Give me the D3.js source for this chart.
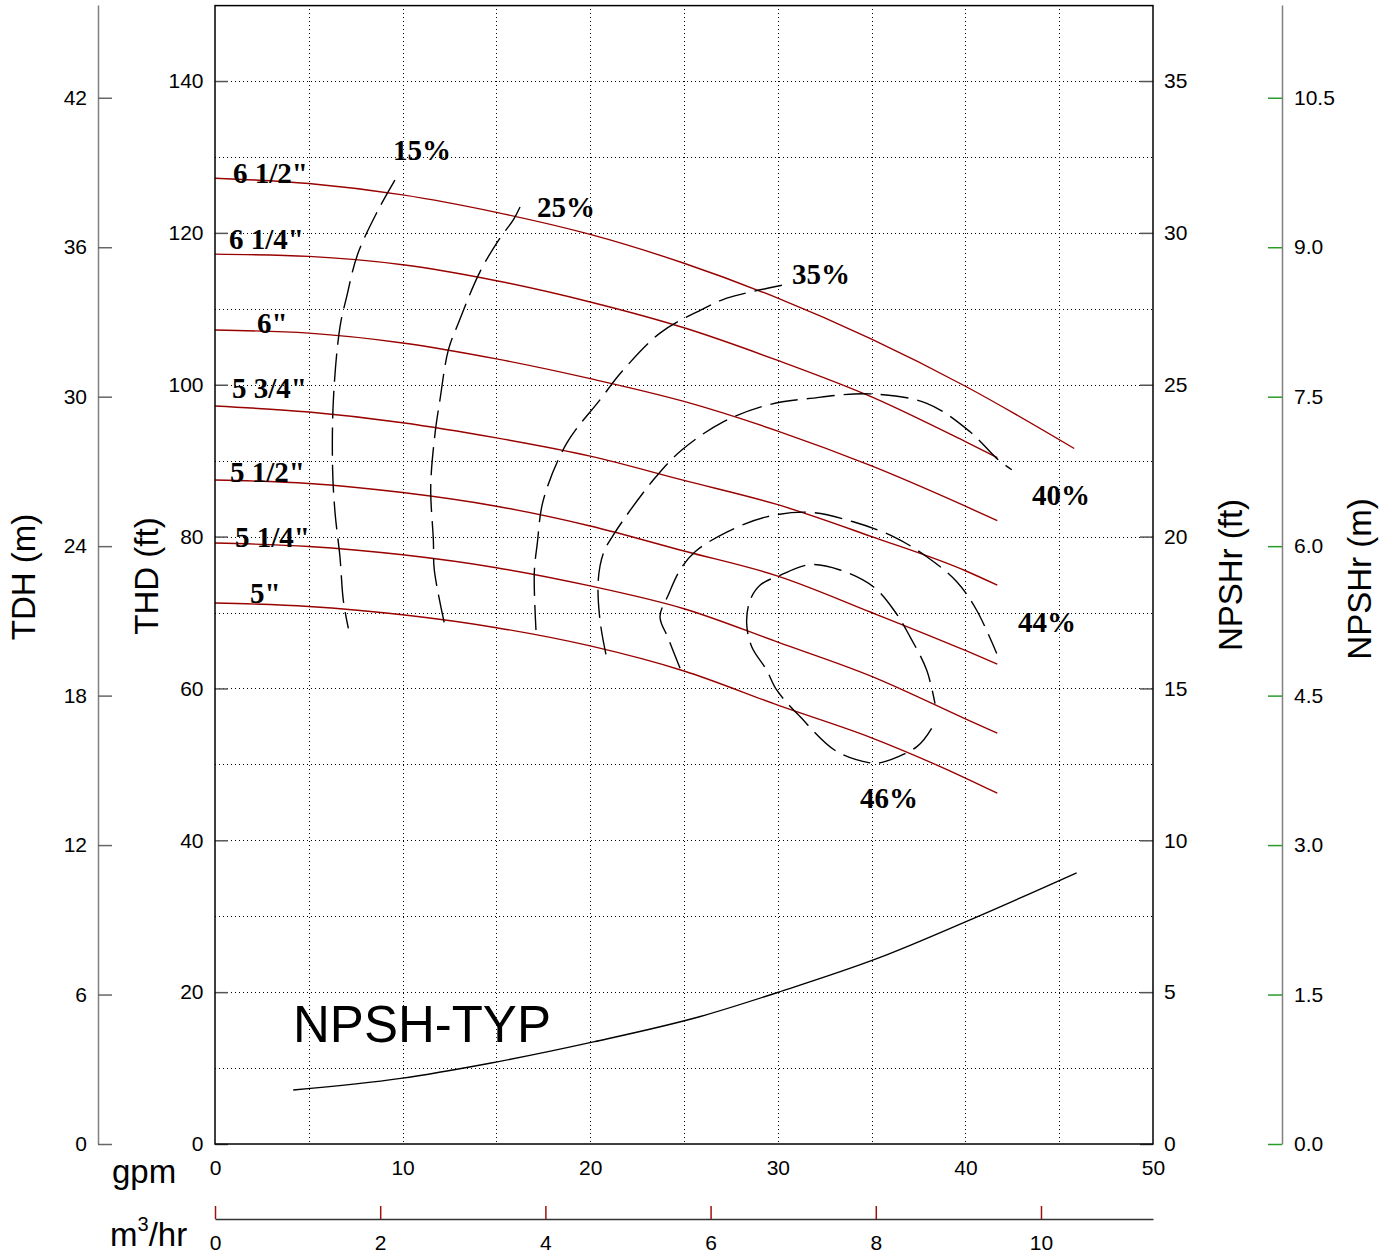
<!DOCTYPE html>
<html><head><meta charset="utf-8">
<script src="https://cdn.jsdelivr.net/npm/d3@7"></script>
<style>body{margin:0;background:#fff}</style>
</head><body><svg id="c" width="1394" height="1255"></svg>
<script>
// ---------- data ----------
const gpmTicks = [0,10,20,30,40,50];
const m3hrTicks = [0,2,4,6,8,10];
const thdTicks = [0,20,40,60,80,100,120,140];
const tdhTicks = [0,6,12,18,24,30,36,42];
const npshFtTicks = [0,5,10,15,20,25,30,35];
const npshMTicks = [0,1.5,3,4.5,6,7.5,9,10.5];
const gridGpm = [5,10,15,20,25,30,35,40,45];
const gridThd = [10,20,30,40,50,60,70,80,90,100,110,120,130,140];

// impeller head curves [gpm, ft]
const head_6_1_2 = [[0,127.2],[5,126.5],[10,125.0],[15,122.7],[20,119.8],[25,116.0],[30,111.4],[35,106.0],[40,99.8],[45.8,91.6]];
const head_6_1_4 = [[0,117.2],[5,116.9],[10,115.8],[15,113.7],[20,110.9],[25,107.5],[30,103.2],[35,98.4],[40,92.5],[41.7,90.4]];
const head_6    = [[0,107.2],[5,106.8],[10,105.5],[15,103.4],[20,100.8],[25,97.8],[30,93.9],[35,89.3],[40,84.0],[41.7,82.1]];
const head_5_3_4 = [[0,97.2],[5,96.4],[10,95.0],[15,93.0],[20,90.6],[25,87.4],[30,84.2],[35,80.0],[40,75.5],[41.7,73.6]];
const head_5_1_2 = [[0,87.45],[5,87.0],[10,85.8],[15,84.0],[20,81.4],[25,78.1],[30,74.8],[35,70.0],[40,65.0],[41.7,63.2]];
const head_5_1_4 = [[0,79.15],[5,78.7],[10,77.6],[15,75.9],[20,73.5],[25,70.5],[30,66.1],[35,61.6],[40,56.0],[41.7,54.1]];
const head_5    = [[0,71.25],[5,70.8],[10,69.7],[15,68.0],[20,65.6],[25,62.3],[30,57.8],[35,53.5],[40,48.2],[41.7,46.2]];
const impellerCurves = [head_6_1_2, head_6_1_4, head_6, head_5_3_4, head_5_1_2, head_5_1_4, head_5];
const impellerNames = ['6 1/2"','6 1/4"','6"','5 3/4"','5 1/2"','5 1/4"','5"'];
const impellerLabelAt = [[0.96,126.6],[0.75,117.9],[2.24,106.8],[0.91,98.25],[0.8,87.2],[1.07,78.6],[1.87,71.25]];

// efficiency contours [gpm, ft]
const eff15 = [[9.59,126.96],[8.65,122.8],[7.59,117.1],[7.02,111.6],[6.66,107.6],[6.31,98.0],[6.27,88.8],[6.40,83.1],[6.66,77.35],[6.84,71.6],[7.11,67.9]];
const eff25 = [[16.26,123.4],[15.90,121.7],[15.19,119.3],[14.13,114.9],[12.97,108.1],[12.44,104.6],[11.99,98.0],[11.73,93.6],[11.50,86.6],[11.64,79.5],[11.69,75.6],[12.26,68.2]];
const eff35 = [[30.22,113.1],[28.61,112.25],[27.28,111.4],[25.94,109.9],[23.72,106.8],[21.68,101.7],[20.52,98.0],[18.75,92.3],[17.50,84.8],[17.18,79.1],[17.02,75.2],[17.11,67.7]];
const eff40 = [[20.84,64.5],[20.52,69.0],[20.43,74.3],[20.70,77.8],[21.23,80.2],[23.36,87.45],[24.88,91.4],[27.09,95.1],[29.41,97.3],[31.72,98.2],[34.91,98.8],[37.94,97.55],[40.25,93.8],[41.67,90.3],[42.47,88.8]];
const eff44 = [[24.79,62.65],[24.16,66.6],[23.72,69.45],[24.16,72.3],[24.79,75.6],[25.59,78.0],[27.28,80.6],[29.41,82.6],[31.72,83.2],[34.02,81.95],[36.16,80.0],[37.94,77.35],[39.54,74.05],[40.60,70.3],[41.67,64.6]];
const eff46 = [[38.20,54.75],[37.40,52.3],[35.45,50.2],[34.91,50.2],[33.14,51.7],[31.18,56.3],[29.94,59.8],[29.41,62.4],[28.61,65.5],[28.34,68.6],[28.52,71.6],[29.05,73.6],[30.12,74.9],[31.72,76.3],[33.32,75.6],[35.09,73.4],[36.25,70.1],[37.05,66.8],[37.94,62.4],[38.38,58.0]];
const effCurves = [eff15, eff25, eff35, eff40, eff44, eff46];
const effNames = ['15%','25%','35%','40%','44%','46%'];
const effLabelAt = [[9.49,129.6],[17.16,122.1],[30.76,113.3],[43.55,84.2],[42.8,67.4],[34.38,44.25]];

// NPSHr curve [gpm, ft]
const npshGpm = [4.17,9.90,14.65,20.23,25.82,30.29,35.31,40.62,45.93];
const npshFt  = [1.78,2.16,2.66,3.37,4.19,5.05,6.11,7.48,8.93];

// ---------- scales ----------
const svg = d3.select('#c');
const L=215, R=1153, T=5.1, B=1144;
const x = d3.scaleLinear().domain([0,50]).range([L,R]);
const yFt = d3.scaleLinear().domain([0,150]).range([B,T]);
const yNpshFt = d3.scaleLinear().domain([0,37.5]).range([B,T]);
const yTdhM = d3.scaleLinear().domain([0,150*0.3048]).range([B,T]);
const yNpshM = d3.scaleLinear().domain([0,37.5*0.3048]).range([B,T]);
const xM3 = d3.scaleLinear().domain([0,50/4.402868]).range([L,R]);

const SANS = "'Liberation Sans', Arial, sans-serif";
const SERIF = "'Liberation Serif', 'Times New Roman', serif";

// ---------- grid ----------
const grid = svg.append('g').attr('stroke','#000').attr('stroke-width',1)
  .attr('stroke-dasharray','1,3').attr('shape-rendering','crispEdges');
grid.selectAll('line.v').data(gridGpm).enter().append('line')
  .attr('x1',d=>Math.round(x(d))+0.5).attr('x2',d=>Math.round(x(d))+0.5)
  .attr('y1',yFt(150)).attr('y2',yFt(0));
grid.selectAll('line.h').data(gridThd).enter().append('line')
  .attr('y1',d=>Math.round(yFt(d))+0.5).attr('y2',d=>Math.round(yFt(d))+0.5)
  .attr('x1',x(0)).attr('x2',x(50));

function styleAxis(g, tickColor, fontSize){
  g.attr('font-family',SANS).attr('font-size',fontSize);
  g.selectAll('.tick line').attr('stroke',tickColor).attr('stroke-width',1.5);
  g.selectAll('.tick text').attr('fill','#000');
}

// THD (ft) axis
const gThd = svg.append('g').attr('transform',`translate(${L},0)`)
  .call(d3.axisLeft(yFt).tickValues(thdTicks).tickSize(-13).tickPadding(11.5).tickFormat(d3.format('d')));
gThd.select('.domain').remove();
styleAxis(gThd,'#555',21);

// NPSHr (ft) axis
const gNf = svg.append('g').attr('transform',`translate(${R},0)`)
  .call(d3.axisRight(yNpshFt).tickValues(npshFtTicks).tickSize(-13).tickPadding(11).tickFormat(d3.format('d')));
gNf.select('.domain').remove();
styleAxis(gNf,'#555',21);

// TDH (m) axis
const gTm = svg.append('g').attr('transform',`translate(98,0)`)
  .call(d3.axisLeft(yTdhM).tickValues(tdhTicks).tickSize(-14).tickSizeOuter(0).tickPadding(11).tickFormat(d3.format('d')));
gTm.select('.domain').attr('stroke','#808080').attr('stroke-width',1.5);
styleAxis(gTm,'#666',21);

// NPSHr (m) axis
const gNm = svg.append('g').attr('transform',`translate(1282,0)`)
  .call(d3.axisRight(yNpshM).tickValues(npshMTicks).tickSize(-14).tickSizeOuter(0).tickPadding(12).tickFormat(d3.format('.1f')));
gNm.select('.domain').attr('stroke','#808080').attr('stroke-width',1.5);
styleAxis(gNm,'#2a9a2a',21);

// gpm axis
const gG = svg.append('g').attr('transform',`translate(0,${B})`)
  .call(d3.axisBottom(x).tickValues(gpmTicks).tickSize(0).tickPadding(16).tickFormat(d3.format('d')));
gG.select('.domain').remove();
styleAxis(gG,'#000',21);

// m3/hr axis
const gM = svg.append('g').attr('transform',`translate(0,1219)`)
  .call(d3.axisBottom(xM3).tickValues(m3hrTicks).tickSize(-13).tickSizeOuter(0).tickPadding(16).tickFormat(d3.format('d')));
gM.select('.domain').attr('stroke','#333').attr('stroke-width',1.5);
styleAxis(gM,'#a01010',21);

// ---------- curves ----------
const headLine = d3.line().x(d=>x(d[0])).y(d=>yFt(d[1])).curve(d3.curveMonotoneX);
svg.append('g').selectAll('path').data(impellerCurves).enter().append('path')
  .attr('d',headLine).attr('fill','none').attr('stroke','#990000').attr('stroke-width',1.4);

const effLine = d3.line().x(d=>x(d[0])).y(d=>yFt(d[1])).curve(d3.curveCatmullRom.alpha(0.5));
svg.append('g').selectAll('path').data(effCurves).enter().append('path')
  .attr('d',effLine).attr('fill','none').attr('stroke','#000').attr('stroke-width',1.4)
  .attr('stroke-dasharray','28,9');

const npshLine = d3.line().x((d,i)=>x(npshGpm[i])).y(d=>yNpshFt(d)).curve(d3.curveMonotoneX);
svg.append('path').datum(npshFt).attr('d',npshLine).attr('fill','none')
  .attr('stroke','#000').attr('stroke-width',1.4);

// frame
svg.append('rect').attr('x',L).attr('y',T+0.5).attr('width',R-L).attr('height',B-T-0.5)
  .attr('fill','none').attr('stroke','#000').attr('stroke-width',1.5);

// ---------- labels ----------
svg.append('g').selectAll('text').data(impellerNames).enter().append('text')
  .attr('x',(d,i)=>x(impellerLabelAt[i][0])).attr('y',(d,i)=>yFt(impellerLabelAt[i][1]))
  .attr('font-family',SERIF).attr('font-weight','bold').attr('font-size',29).text(d=>d);
svg.append('g').selectAll('text').data(effNames).enter().append('text')
  .attr('x',(d,i)=>x(effLabelAt[i][0])).attr('y',(d,i)=>yFt(effLabelAt[i][1]))
  .attr('font-family',SERIF).attr('font-weight','bold').attr('font-size',29).text(d=>d);

svg.append('text').attr('x',x(4.16)).attr('y',yNpshFt(3.36))
  .attr('font-family',SANS).attr('font-size',51).text('NPSH-TYP');

// axis titles
function vtitle(tx,ty,txt){
  svg.append('text').attr('transform',`translate(${tx},${ty}) rotate(-90)`)
    .attr('text-anchor','middle').attr('font-family',SANS).attr('font-size',33).text(txt);
}
vtitle(35,577,'TDH (m)');
vtitle(158,576,'THD (ft)');
vtitle(1242,575,'NPSHr (ft)');
vtitle(1371,579,'NPSHr (m)');

svg.append('text').attr('x',112).attr('y',1183).attr('font-family',SANS).attr('font-size',33).text('gpm');
const mt = svg.append('text').attr('x',110).attr('y',1246).attr('font-family',SANS).attr('font-size',33);
mt.append('tspan').text('m');
mt.append('tspan').attr('font-size',20).attr('dy',-15).text('3');
mt.append('tspan').attr('dy',15).text('/hr');
</script></body></html>
